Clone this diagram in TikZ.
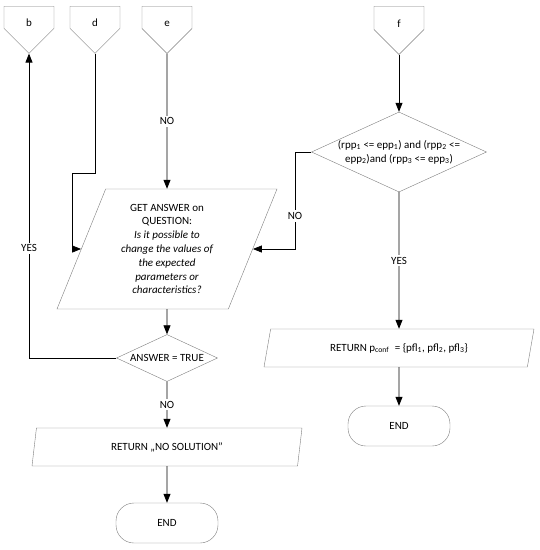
\documentclass[tikz,border=0pt]{standalone}
\usepackage{fontspec}
\setmainfont{Carlito}
\usetikzlibrary{shapes.geometric, shapes.symbols, arrows.meta}
\definecolor{shapegray}{RGB}{125,125,125}

\begin{document}
\begin{tikzpicture}[x=1pt, y=-1pt, >={Triangle[length=9pt,width=7pt]},
  font=\fontsize{11}{13.8}\selectfont,
  offpage/.style={draw=shapegray, signal, signal to=south, signal from=nowhere, minimum width=50pt, minimum height=25pt, inner sep=0pt, text height=19pt, text depth=0pt, anchor=north},
  io/.style={draw=shapegray, trapezium, trapezium stretches body, align=center, inner sep=0pt},
  decision/.style={draw=shapegray, diamond, align=center, inner sep=0pt},
  terminal/.style={draw=shapegray, rectangle, rounded corners=18pt, minimum width=102pt, minimum height=40pt},
  line/.style={draw=black, line width=0.8pt},
  lbl/.style={fill=white, inner sep=2pt}]
\useasboundingbox (0,0) rectangle (540,550);

% Off-page connectors
\node[offpage] (b) at (29,6) {b};
\node[offpage] (d) at (95,6) {d};
\node[offpage] (e) at (167,6) {e};
\node[offpage] (f) at (399,6) {f};

% Left branch
\node[io, trapezium left angle=61.6, trapezium right angle=118.4, minimum width=220pt, minimum height=120pt] (ask) at (167,249)
  {GET ANSWER on\\QUESTION:\\{\itshape Is it possible to}\\{\itshape change the values of}\\{\itshape the expected}\\{\itshape parameters or}\\{\itshape characteristics?}};
\node[decision, aspect=2.15, minimum width=101pt, minimum height=47pt] (ansq) at (167,358) {ANSWER = TRUE};
\node[io, trapezium left angle=64.7, trapezium right angle=115.3, minimum width=270pt, minimum height=38pt] (nosol) at (167,447) {RETURN „NO SOLUTION”};
\node[terminal] (endl) at (167,523) {END};

% Right branch
\node[decision, aspect=2.2, minimum width=175pt, minimum height=80pt] (rcond) at (399,152)
  {(rpp\textsubscript{1} <= epp\textsubscript{1}) and (rpp\textsubscript{2} <=\\epp\textsubscript{2})and (rpp\textsubscript{3} <= epp\textsubscript{3})};
\node[io, trapezium left angle=55.6, trapezium right angle=124.4, minimum width=270pt, minimum height=38pt] (retconf) at (399,348)
  {RETURN p\textsubscript{conf}\enspace = \{pfl\textsubscript{1}, pfl\textsubscript{2}, pfl\textsubscript{3}\}};
\node[terminal] (endr) at (399,426) {END};

% Bend points
\coordinate (dbend) at (72,173);
\coordinate (nobend) at (295,152);

% Connectors
\draw[line, ->] (e.south) -- node[lbl] {NO} (ask.north);
\draw[line, ->] (d.south) |- (dbend) |- (ask.west);
\draw[line, ->] (rcond.west) -- (nobend) |- node[lbl, pos=0.33] {NO} (ask.east);
\draw[line, ->] (ask.south) -- (ansq.north);
\draw[line, ->] (ansq.west) -| node[lbl, pos=0.68] {YES} (b.south);
\draw[line, ->] (ansq.south) -- node[lbl] {NO} (nosol.north);
\draw[line, ->] (nosol.south) -- (endl.north);
\draw[line, ->] (f.south) -- (rcond.north);
\draw[line, ->] (rcond.south) -- node[lbl] {YES} (retconf.north);
\draw[line, ->] (retconf.south) -- (endr.north);
\end{tikzpicture}
\end{document}
